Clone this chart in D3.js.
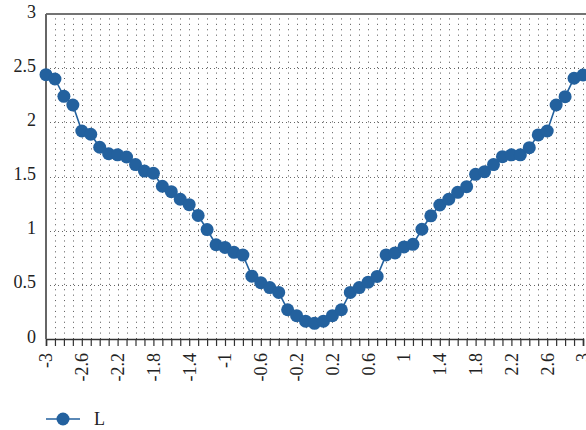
<!DOCTYPE html>
<html>
<head>
<meta charset="utf-8">
<script src="https://cdn.jsdelivr.net/npm/d3@7"></script>
<style>
  body { margin: 0; background: #fff; }
  text { font-family: "Liberation Serif", "DejaVu Serif", serif; fill: #222; }
</style>
</head>
<body>
<div id="chart"></div>
<script>
// x positions, step 0.1 from -3 to 3
const xValues = [
  -3.0, -2.9, -2.8, -2.7, -2.6, -2.5, -2.4, -2.3, -2.2, -2.1,
  -2.0, -1.9, -1.8, -1.7, -1.6, -1.5, -1.4, -1.3, -1.2, -1.1,
  -1.0, -0.9, -0.8, -0.7, -0.6, -0.5, -0.4, -0.3, -0.2, -0.1,
  0.0,
  0.1, 0.2, 0.3, 0.4, 0.5, 0.6, 0.7, 0.8, 0.9, 1.0,
  1.1, 1.2, 1.3, 1.4, 1.5, 1.6, 1.7, 1.8, 1.9, 2.0,
  2.1, 2.2, 2.3, 2.4, 2.5, 2.6, 2.7, 2.8, 2.9, 3.0,
];
const lValues = [
  2.44, 2.40, 2.24, 2.16, 1.92, 1.89, 1.77, 1.71, 1.70, 1.68,
  1.61, 1.55, 1.53, 1.41, 1.36, 1.29, 1.24, 1.14, 1.01, 0.87,
  0.845, 0.80, 0.775, 0.58, 0.52, 0.475, 0.43, 0.27, 0.215, 0.165,
  0.145,
  0.165, 0.215, 0.27, 0.43, 0.475, 0.525, 0.578, 0.776, 0.795, 0.85,
  0.874, 1.013, 1.137, 1.237, 1.29, 1.354, 1.406, 1.52, 1.545, 1.61,
  1.683, 1.70, 1.70, 1.766, 1.884, 1.92, 2.16, 2.237, 2.407, 2.437,
];
const xTickLabels = [-3, -2.6, -2.2, -1.8, -1.4, -1, -0.6, -0.2, 0.2, 0.6, 1, 1.4, 1.8, 2.2, 2.6, 3];
const yTickLabels = [0, 0.5, 1, 1.5, 2, 2.5, 3];
const seriesName = 'L';

const W = 586, H = 430;
const margin = { top: 14, left: 46, bottom: 91, right: 3 };
const color = '#23619e';

const svg = d3.select('#chart').append('svg')
  .attr('width', W).attr('height', H);

const x = d3.scaleLinear().domain([-3, 3]).range([margin.left, W - margin.right]);
const y = d3.scaleLinear().domain([0, 3]).range([H - margin.bottom, margin.top]);

const minorX = d3.range(0, 61).map(i => -3 + i * 0.1);

// dotted grid
const grid = svg.append('g');
grid.selectAll('line.v')
  .data(minorX.slice(1))
  .enter().append('line')
  .attr('x1', d => Math.round(x(d)) + 0.5).attr('x2', d => Math.round(x(d)) + 0.5)
  .attr('y1', y(0)).attr('y2', y(3))
  .attr('stroke', '#555').attr('stroke-width', 1)
  .attr('stroke-dasharray', `1,${(y(0) - y(0.05)) - 1}`);
grid.selectAll('line.h')
  .data(yTickLabels.slice(1, -1))
  .enter().append('line')
  .attr('x1', x(-3)).attr('x2', W)
  .attr('y1', d => Math.round(y(d)) + 0.5).attr('y2', d => Math.round(y(d)) + 0.5)
  .attr('stroke', '#666').attr('stroke-width', 1)
  .attr('stroke-dasharray', '1,3');

// top border
svg.append('line')
  .attr('x1', x(-3)).attr('x2', W)
  .attr('y1', y(3)).attr('y2', y(3))
  .attr('stroke', '#444').attr('stroke-width', 1.5);

// x axis
const xAxis = svg.append('g')
  .attr('transform', `translate(0,${y(0)})`)
  .call(d3.axisBottom(x).tickValues(minorX).tickSize(7).tickFormat(''));
xAxis.select('.domain').attr('stroke', '#333').attr('stroke-width', 1.6);
xAxis.selectAll('.tick line').attr('stroke', '#333').attr('stroke-width', 1.2);

svg.append('g').selectAll('text')
  .data(xTickLabels)
  .enter().append('text')
  .attr('transform', d => `translate(${x(d)},${y(0) + 14}) rotate(-90)`)
  .attr('dy', '0.35em')
  .attr('text-anchor', 'end')
  .attr('font-size', 18)
  .text(d => d);

// y axis
svg.append('line')
  .attr('x1', x(-3)).attr('x2', x(-3))
  .attr('y1', y(0)).attr('y2', y(3))
  .attr('stroke', '#666').attr('stroke-width', 2);
svg.append('g').selectAll('text')
  .data(yTickLabels)
  .enter().append('text')
  .attr('x', x(-3) - 10)
  .attr('y', d => y(d))
  .attr('dy', '0.2em')
  .attr('text-anchor', 'end')
  .attr('font-size', 18)
  .text(d => d);

// series
const pts = xValues.map((v, i) => ({ x: v, y: lValues[i] }));
svg.append('path')
  .datum(pts)
  .attr('fill', 'none')
  .attr('stroke', color)
  .attr('stroke-width', 1.6)
  .attr('d', d3.line().x(d => x(d.x)).y(d => y(d.y)));
svg.append('g').selectAll('circle')
  .data(pts)
  .enter().append('circle')
  .attr('cx', d => x(d.x)).attr('cy', d => y(d.y))
  .attr('r', 6.5)
  .attr('fill', color);

// legend
const lg = svg.append('g').attr('transform', 'translate(46,419)');
lg.append('line').attr('x1', 0).attr('x2', 34).attr('stroke', color).attr('stroke-width', 1.6);
lg.append('circle').attr('cx', 17).attr('r', 6.5).attr('fill', color);
lg.append('text').attr('x', 48).attr('dy', '0.33em').attr('font-size', 18).text(seriesName);
</script>
</body>
</html>
